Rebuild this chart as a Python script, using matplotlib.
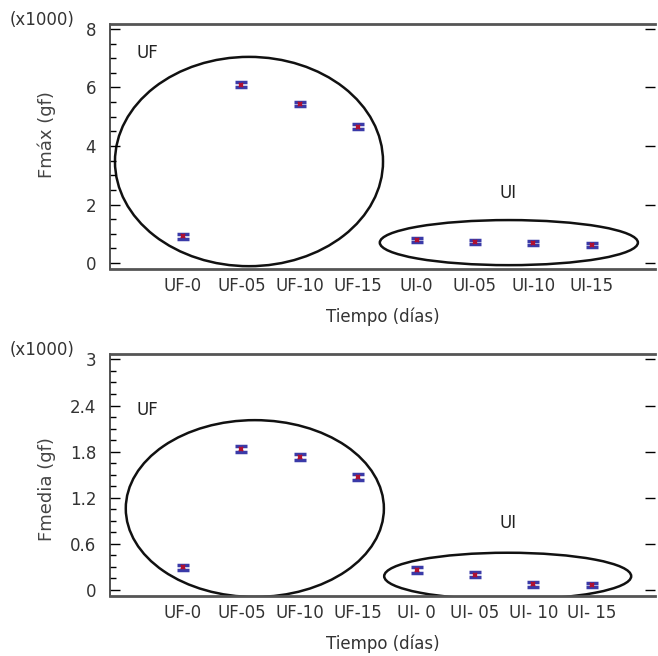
import numpy as np
import matplotlib
matplotlib.use("Agg")
import matplotlib.pyplot as plt
from matplotlib.patches import Ellipse
from matplotlib.ticker import MultipleLocator

#===== DATA =======================================#
labels_top = ['UF-0', 'UF-05', 'UF-10', 'UF-15', 'UI-0', 'UI-05', 'UI-10', 'UI-15']
labels_bot = ['UF-0', 'UF-05', 'UF-10', 'UF-15', 'UI- 0', 'UI- 05', 'UI- 10', 'UI- 15']

# values in thousands of gf
fmax = [0.92, 6.09, 5.43, 4.66, 0.79, 0.71, 0.68, 0.62]
fmax_err = [0.08, 0.08, 0.08, 0.08, 0.07, 0.07, 0.07, 0.07]
fmedia = [0.295, 1.84, 1.73, 1.47, 0.26, 0.20, 0.074, 0.06]
fmedia_err = [0.03, 0.04, 0.035, 0.035, 0.035, 0.03, 0.03, 0.025]

#===== PLOT =======================================#
fig = plt.figure(figsize=(6.58, 6.56), dpi=100)
ax1 = fig.add_axes([0.1672, 0.590, 0.828, 0.3735])
ax2 = fig.add_axes([0.1672, 0.0919, 0.828, 0.3684])

x = np.arange(len(labels_top))
txt_col = '#333333'


def style_axis(ax, labels, ylim, major, minor, ylab, ylab_y):
    ax.set_xlim(-1.25, 8.08)
    ax.set_ylim(*ylim)
    ax.set_xticks(x)
    ax.set_xticklabels(labels, fontsize=12, color=txt_col)
    ax.tick_params(axis='x', length=0, pad=6)
    ax.yaxis.set_major_locator(MultipleLocator(major))
    ax.yaxis.set_minor_locator(MultipleLocator(minor))
    ax.tick_params(axis='y', which='major', direction='in', length=7, width=1,
                   right=True, labelsize=12, labelcolor=txt_col, pad=10)
    ax.tick_params(axis='y', which='minor', direction='in', length=4, width=1)
    ax.tick_params(axis='y', which='minor', right=False)
    for s in ['top', 'bottom']:
        ax.spines[s].set_linewidth(2)
        ax.spines[s].set_color('#555555')
    ax.spines['left'].set_linewidth(1.2)
    ax.spines['left'].set_color('#333333')
    ax.spines['right'].set_visible(False)
    ax.set_xlabel('Tiempo (días)', fontsize=12, color=txt_col, labelpad=9)
    ax.set_ylabel(ylab, fontsize=13, color='#444444')
    ax.yaxis.set_label_coords(-0.10, ylab_y)
    ax.text(-0.065, 1.016, '(x1000)', transform=ax.transAxes, ha='right', va='center',
            fontsize=12, color=txt_col)


def draw_points(ax, vals, errs):
    ax.errorbar(x, vals, yerr=errs, fmt='none', ecolor='#3a3aa8', elinewidth=2,
                capsize=4.5, capthick=2.5, zorder=3)
    ax.plot(x, vals, ls='none', marker='x', ms=3.5, mew=1.5, color='#b01030', zorder=4)


# top: Fmax
style_axis(ax1, labels_top, (-0.2, 8.17), 2, 0.5, 'Fmáx (gf)', 0.55)
draw_points(ax1, fmax, fmax_err)
ax1.add_patch(Ellipse((1.13, 3.47), 4.59, 7.15, fill=False, lw=1.8, ec='#111111'))
ax1.add_patch(Ellipse((5.58, 0.70), 4.42, 1.54, fill=False, lw=1.8, ec='#111111'))
ax1.text(-0.79, 7.18, 'UF', fontsize=12, color='#222222', va='center', ha='left')
ax1.text(5.56, 2.39, 'UI', fontsize=12, color='#222222', va='center', ha='center')

# bottom: Fmedia
style_axis(ax2, labels_bot, (-0.074, 3.07), 0.6, 0.15, 'Fmedia (gf)', 0.44)
ax2.set_yticks([0, 0.6, 1.2, 1.8, 2.4, 3.0])
ax2.set_yticklabels(['0', '0.6', '1.2', '1.8', '2.4', '3'])
draw_points(ax2, fmedia, fmedia_err)
ax2.add_patch(Ellipse((1.23, 1.06), 4.42, 2.30, fill=False, lw=1.8, ec='#111111'))
ax2.add_patch(Ellipse((5.56, 0.18), 4.23, 0.61, fill=False, lw=1.8, ec='#111111'))
ax2.text(-0.79, 2.34, 'UF', fontsize=12, color='#222222', va='center', ha='left')
ax2.text(5.56, 0.87, 'UI', fontsize=12, color='#222222', va='center', ha='center')

fig.savefig('out.png', dpi=100)
